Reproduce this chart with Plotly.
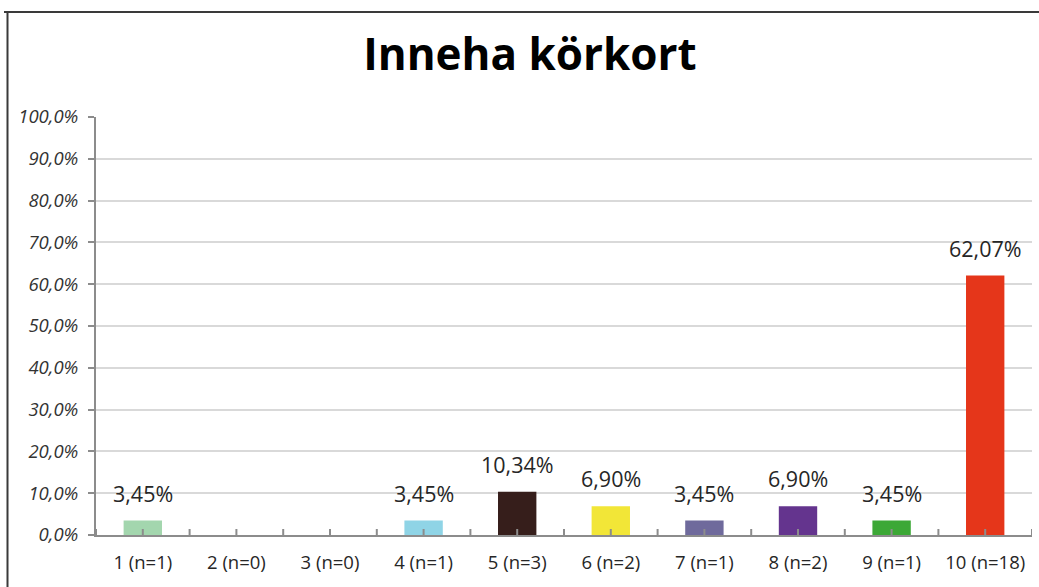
import plotly.graph_objects as go

# Data
categories = ["1 (n=1)", "2 (n=0)", "3 (n=0)", "4 (n=1)", "5 (n=3)",
              "6 (n=2)", "7 (n=1)", "8 (n=2)", "9 (n=1)", "10 (n=18)"]
shares = [3.45, 0.0, 0.0, 3.45, 10.34, 6.90, 3.45, 6.90, 3.45, 62.07]
bar_colors = ["#a3d6ae", "#a3d6ae", "#a3d6ae", "#8fd4e6", "#361e1b",
              "#f2e637", "#6f6a9c", "#64348e", "#3ca836", "#e5361a"]
title_text = "Inneha körkort"

W, H = 1039, 587
L, R, T, B = 96, 7, 117, 52

fig = go.Figure()
fig.add_trace(go.Bar(
    x=categories, y=shares,
    marker=dict(color=bar_colors, line=dict(width=0)),
    hoverinfo="skip",
))

# Value labels above each non-empty bar
for c, v in zip(categories, shares):
    if v > 0:
        fig.add_annotation(
            x=c, y=v, text=f"{v:.2f}".replace(".", ",") + "%",
            showarrow=False, yanchor="bottom", yshift=11,
            font=dict(family="Open Sans", size=21.5, color="#262626"),
        )

# Cross tick marks along the category axis (boundaries and centres)
grey = "#8c8c8c"
tick_pos = [i - 0.5 for i in range(len(categories) + 1)] + list(range(len(categories)))
for p in tick_pos:
    fig.add_shape(type="line", xref="x", yref="y", ysizemode="pixel", yanchor=0,
                  x0=p, x1=p, y0=-6, y1=6, line=dict(color=grey, width=2),
                  layer="above")

# Outer frame lines
pw, ph = W - L - R, H - T - B
def px_x(px):
    return (px - L) / pw
def px_y(py):
    return (H - B - py) / ph
fig.add_shape(type="line", xref="paper", yref="paper",
              x0=px_x(4), x1=px_x(1045), y0=px_y(12), y1=px_y(12),
              line=dict(color="#3a3a3a", width=2))
fig.add_shape(type="line", xref="paper", yref="paper",
              x0=px_x(7.5), x1=px_x(7.5), y0=px_y(12), y1=px_y(600),
              line=dict(color="#3a3a3a", width=2))

fig.update_layout(
    width=W, height=H,
    margin=dict(l=L, r=R, t=T, b=B),
    paper_bgcolor="white", plot_bgcolor="white",
    bargap=0.59, showlegend=False,
    separators=", ",
    title=dict(text=f"<b>{title_text}</b>", x=0.51, xanchor="center",
               y=1 - 55 / H, yanchor="middle",
               font=dict(family="Open Sans", size=44, color="#000000")),
    xaxis=dict(
        type="category", showgrid=False, showline=True, linecolor=grey, linewidth=2,
        ticks="", tickfont=dict(family="Open Sans", size=18.5, color="#262626"),
        ticklabelstandoff=10, range=[-0.5, len(categories) - 0.5],
    ),
    yaxis=dict(
        range=[0, 100], dtick=10, tickformat=".1f", ticksuffix="%",
        showgrid=True, gridcolor="#d9d9d9", gridwidth=1.5,
        showline=True, linecolor=grey, linewidth=2,
        ticks="outside", ticklen=6, tickcolor=grey, tickwidth=2,
        tickfont=dict(family="Open Sans", size=18.5, color="#333333", style="italic"),
        ticklabelstandoff=6, zeroline=False,
    ),
)

fig.write_html("out.html")
